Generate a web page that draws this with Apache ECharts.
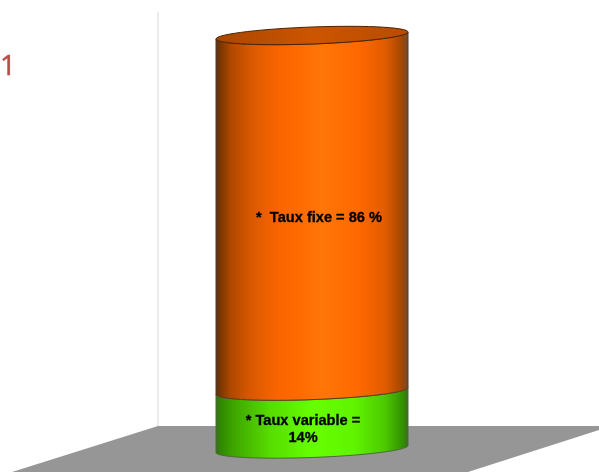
<!DOCTYPE html>
<html>
<head>
<meta charset="utf-8">
<style>html,body{margin:0;padding:0;background:#fff}#c{width:599px;height:472px}</style>
<script src="https://cdn.jsdelivr.net/npm/echarts@6/dist/echarts.min.js"></script>
</head>
<body>
<div id="c"></div>
<script>
// Fixed and variable rate shares, stacked bottom to top
const categories = ['Répartition'];
const segmentNames = ['Taux variable', 'Taux fixe'];
const segmentValues = [14, 86];
const segmentLabels = ['* Taux variable =\n14%', '*  Taux fixe = 86 %'];
const chartTitle = '1';

const orangeStops = [
  [0, '#4a3426'], [0.025, '#7a3600'], [0.08, '#b04800'], [0.18, '#d85800'], [0.32, '#fa6400'], [0.42, '#ff6a00'],
  [0.55, '#ff7608'], [0.74, '#ff6800'], [0.88, '#e05c00'], [0.96, '#a84800'], [1, '#6e4a30']
];
const greenStops = [
  [0, '#3a6a20'], [0.03, '#2f8a00'], [0.1, '#3fa800'], [0.28, '#56dc00'], [0.5, '#66ff00'],
  [0.72, '#60f400'], [0.88, '#4cc800'], [0.97, '#329000'], [1, '#3a6a20']
];
const lidStops = [[0, '#a84600'], [0.5, '#cc5500'], [1, '#b84c00']];
const segmentFills = [greenStops, orangeStops];
const labelShift = [[-9, 9.5], [7, 5]];

const rimDepth = 8.5;
const rimTilt = 3.5;

// Point on a tilted rim ellipse around (cx, cy)
function rimPoint(cx, cy, a, t) {
  return [cx + a * Math.cos(t), cy + rimDepth * Math.sin(t) - rimTilt * Math.cos(t)];
}
function arc(cx, cy, a, from, to) {
  const pts = [];
  for (let i = 0; i <= 60; i++) {
    pts.push(rimPoint(cx, cy, a, from + (to - from) * i / 60));
  }
  return pts;
}
function gradient(stops) {
  return new echarts.graphic.LinearGradient(0, 0, 1, 0,
    stops.map(s => ({ offset: s[0], color: s[1] })));
}

let base = 0;
const stackData = segmentValues.map((v, i) => {
  const row = [0, base, base + v, i];
  base += v;
  return row;
});

function renderSegment(params, api) {
  const idx = api.value(3);
  const bottom = api.coord([api.value(0), api.value(1)]);
  const top = api.coord([api.value(0), api.value(2)]);
  const a = api.size([1, 0])[0] / 2;
  const cx = bottom[0];
  // Front edge of the top rim runs left to right, bottom rim comes back
  const body = arc(cx, top[1], a, Math.PI, 0).concat(arc(cx, bottom[1], a, 0, Math.PI));
  const children = [{
    type: 'polygon',
    shape: { points: body },
    style: { fill: gradient(segmentFills[idx]), stroke: idx ? '#5a3a20' : '#4a6a38', lineWidth: 1 }
  }];
  if (idx === segmentValues.length - 1) {
    children.push({
      type: 'polygon',
      shape: { points: arc(cx, top[1], a, 0, Math.PI * 2) },
      style: { fill: gradient(lidStops), stroke: '#4a2400', lineWidth: 1 }
    });
  }
  children.push({
    type: 'text',
    z2: 10,
    style: {
      x: cx + labelShift[idx][0],
      y: (top[1] + bottom[1]) / 2 + labelShift[idx][1],
      text: segmentLabels[idx],
      fill: '#000',
      stroke: '#000',
      lineWidth: 0.3,
      align: 'center',
      verticalAlign: 'middle',
      font: 'bold 14.6px "Liberation Sans", Arial, sans-serif',
      lineHeight: 17
    }
  });
  return { type: 'group', children };
}

const chart = echarts.init(document.getElementById('c'), null, { renderer: 'canvas' });
chart.setOption({
  animation: false,
  backgroundColor: '#fff',
  title: {
    text: chartTitle,
    left: -5,
    top: 48,
    textStyle: {
      color: '#b84a4a', fontSize: 28, fontWeight: 'normal', fontFamily: '"Open Sans", sans-serif',
      textBorderColor: '#b84a4a', textBorderWidth: 0.5
    }
  },
  grid: { left: 216, right: 191, top: 35.5, bottom: 23 },
  xAxis: { type: 'category', data: categories, show: false },
  yAxis: { type: 'value', min: 0, max: 100, show: false },
  graphic: [
    {
      type: 'polygon', z: 0, silent: true,
      shape: { points: [[158, 426], [599, 426], [599, 430], [468, 472], [12, 472]] },
      style: { fill: '#969696' }
    },
    {
      type: 'rect', z: 0, silent: true,
      shape: { x: 157, y: 12, width: 2, height: 414 },
      style: { fill: '#ebebeb' }
    }
  ],
  series: [{
    type: 'custom',
    name: segmentNames.join(' / '),
    renderItem: renderSegment,
    data: stackData,
    encode: { x: 0, y: [1, 2] },
    clip: false,
    z: 5
  }]
});
</script>
</body>
</html>
